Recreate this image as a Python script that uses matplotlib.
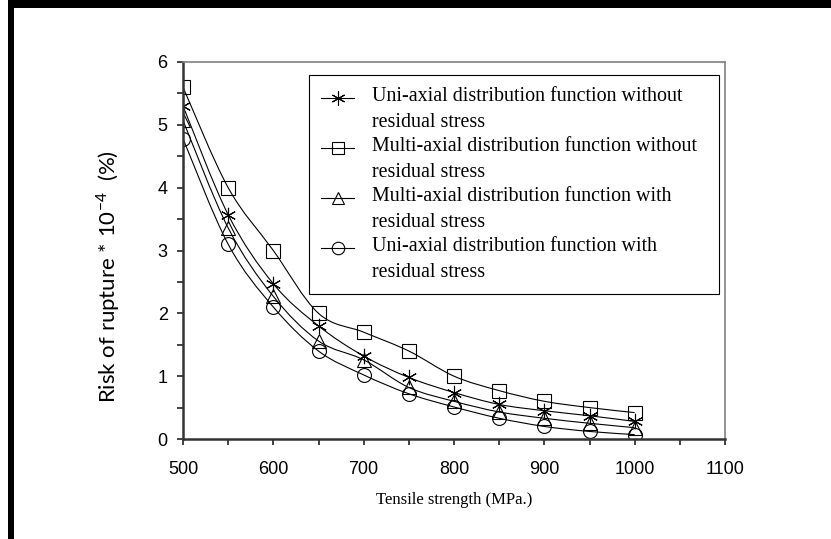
import matplotlib
matplotlib.use("Agg")
import matplotlib.pyplot as plt
from matplotlib.path import Path
from matplotlib.patches import PathPatch, Rectangle
from matplotlib.lines import Line2D
from matplotlib.legend_handler import HandlerLine2D
import numpy as np

# data
strength = [500, 550, 600, 650, 700, 750, 800, 850, 900, 950, 1000]
uni_without = [5.3, 3.57, 2.47, 1.8, 1.32, 0.98, 0.74, 0.55, 0.45, 0.37, 0.28]
multi_without = [5.6, 4.0, 3.0, 2.0, 1.7, 1.4, 1.0, 0.77, 0.6, 0.5, 0.42]
multi_with = [5.07, 3.36, 2.27, 1.56, 1.26, 0.82, 0.6, 0.43, 0.33, 0.25, 0.18]
uni_with = [4.78, 3.1, 2.1, 1.4, 1.02, 0.72, 0.51, 0.33, 0.2, 0.12, 0.07]

labels = ["Uni-axial distribution function without\nresidual stress",
          "Multi-axial distribution function without\nresidual stress",
          "Multi-axial distribution function with\nresidual stress",
          "Uni-axial distribution function with\nresidual stress"]
series = [uni_without, multi_without, multi_with, uni_with]
markers = [(6, 2, 0), "s", "^", "o"]
msizes = [11, 10, 10, 10]


def smooth_path(xs, ys):
    # excel-like smoothed line: catmull-rom segments as cubic beziers
    pts = np.column_stack([xs, ys]).astype(float)
    verts = [pts[0]]
    codes = [Path.MOVETO]
    n = len(pts)
    for i in range(n - 1):
        p0 = pts[i - 1] if i > 0 else pts[i]
        p1 = pts[i]
        p2 = pts[i + 1]
        p3 = pts[i + 2] if i + 2 < n else pts[i + 1]
        c1 = p1 + (p2 - p0) / 6.0
        c2 = p2 - (p3 - p1) / 6.0
        verts += [c1, c2, p2]
        codes += [Path.CURVE4] * 3
    return Path(verts, codes)


class FirstLineHandler(HandlerLine2D):
    # put the legend symbol next to the first line of a two-line label
    def create_artists(self, *args, **kwargs):
        artists = super().create_artists(*args, **kwargs)
        for a in artists:
            a.set_ydata(np.asarray(a.get_ydata()) + 8.5)
        return artists


fig = plt.figure(figsize=(8.31, 5.39), dpi=100)
ax = fig.add_axes([183 / 831, 1 - 439 / 539, 542 / 831, 377 / 539])

handles = []
for ys, mk, ms, lab in zip(series, markers, msizes, labels):
    ax.add_patch(PathPatch(smooth_path(strength, ys), fill=False,
                           edgecolor="black", linewidth=0.8))
    ax.plot(strength, ys, linestyle="none", marker=mk, markersize=ms,
            markerfacecolor="none", markeredgecolor="black", markeredgewidth=0.8)
    handles.append(Line2D([], [], color="black", linewidth=0.8, marker=mk,
                          markersize=ms - 1, markerfacecolor="none",
                          markeredgecolor="black", markeredgewidth=0.8, label=lab))

ax.set_xlim(500, 1100)
ax.set_ylim(0, 6)
ax.set_xticks(np.arange(500, 1101, 100))
ax.set_xticks(np.arange(550, 1100, 100), minor=True)
ax.set_yticks(np.arange(0, 7, 1))
ax.set_yticks(np.arange(0.5, 6, 1), minor=True)
ax.tick_params(which="both", direction="out", length=4, width=1.2, color="#222222")
ax.tick_params(axis="x", which="major", pad=12, labelsize=13)
ax.tick_params(axis="y", which="major", pad=7, labelsize=13)
for t in ax.get_xticklabels() + ax.get_yticklabels():
    t.set_fontfamily("Liberation Sans")

for s in ["left", "bottom"]:
    ax.spines[s].set_linewidth(1.8)
    ax.spines[s].set_color("#333333")
for s in ["top", "right"]:
    ax.spines[s].set_linewidth(1.2)
    ax.spines[s].set_color("#808080")

ax.set_xlabel("Tensile strength (MPa.)", family="Liberation Serif", fontsize=12, labelpad=10)
ax.set_ylabel("Risk of rupture * 10$^{\\mathregular{-4}}$  (%)", family="Lato", fontsize=16)
ax.yaxis.set_label_coords((122 - 183) / 542, (439 - 277) / 377)

leg = ax.legend(handles=handles, loc="upper left",
                bbox_to_anchor=(309 / 831, 1 - 291 / 539, 410 / 831, 216 / 539),
                bbox_transform=fig.transFigure, mode="expand",
                prop={"family": "Liberation Serif", "size": 14.4},
                handler_map={Line2D: FirstLineHandler()},
                frameon=True, fancybox=False, edgecolor="black", framealpha=1,
                handlelength=1.65, handletextpad=0.9, labelspacing=0.25,
                borderpad=0.6, borderaxespad=0)
leg.get_frame().set_linewidth(0.8)
for t in leg.get_texts():
    t.set_linespacing(1.5)

# black frame on the top and left edges
fig.add_artist(Rectangle((8 / 831, 1 - 8 / 539), 1, 8 / 539, transform=fig.transFigure,
                         facecolor="black", edgecolor="none"))
fig.add_artist(Rectangle((8 / 831, 0), 6 / 831, 1, transform=fig.transFigure,
                         facecolor="black", edgecolor="none"))

fig.savefig("out.png", dpi=100)
